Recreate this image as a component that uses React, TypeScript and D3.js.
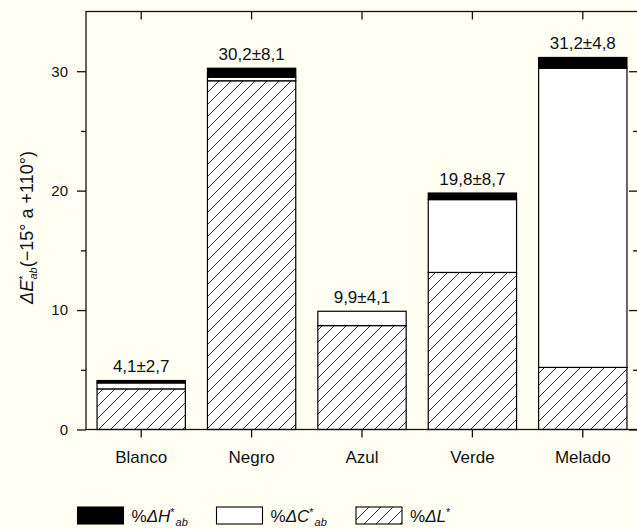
import React, { useEffect, useRef } from "react";
import * as d3 from "d3";

const categories = ["Blanco", "Negro", "Azul", "Verde", "Melado"];
const deltaL = [3.4, 29.2, 8.7, 13.15, 5.2];
const deltaC = [0.5, 0.3, 1.2, 6.1, 25.05];
const deltaH = [0.2, 0.75, 0.0, 0.55, 0.9];
const barLabels = ["4,1±2,7", "30,2±8,1", "9,9±4,1", "19,8±8,7", "31,2±4,8"];
const majorTicks = [0, 10, 20, 30];
const minorTicks = [5, 15, 25];

const W = 637;
const H = 529;
const BG = "#fffff3";
const FONT = "'Liberation Sans', Arial, Helvetica, sans-serif";

export default function App() {
  const ref = useRef<SVGSVGElement>(null);

  useEffect(() => {
    const svg = d3.select(ref.current);
    svg.selectAll("*").remove();

    const left = 86, right = 638, top = 11.5, bottom = 429.5;
    const frameRight = 639.5;

    const x = d3.scaleBand<string>().domain(categories).range([left, right]).paddingInner(0.2).paddingOuter(0.1);
    const y = d3.scaleLinear().domain([0, 35]).range([bottom, top]);

    const defs = svg.append("defs");
    const pat = defs.append("pattern")
      .attr("id", "hatch")
      .attr("patternUnits", "userSpaceOnUse")
      .attr("width", 12).attr("height", 12);
    pat.append("rect").attr("width", 12).attr("height", 12).attr("fill", "#ffffff");
    pat.append("path")
      .attr("d", "M0,12 L12,0 M-3,3 L3,-3 M9,15 L15,9")
      .attr("stroke", "#333").attr("stroke-width", 1);

    svg.append("rect").attr("width", W).attr("height", H).attr("fill", BG);

    // bars
    const stacks = categories.map((c, i) => {
      const L = deltaL[i], C = deltaC[i], Hh = deltaH[i];
      return [
        { y0: 0, y1: L, fill: "url(#hatch)" },
        { y0: L, y1: L + C, fill: "#ffffff" },
        { y0: L + C, y1: L + C + Hh, fill: "#000000" },
      ].map((s) => ({ ...s, c }));
    });

    const g = svg.append("g");
    stacks.forEach((segs) => {
      segs.forEach((s) => {
        if (s.y1 - s.y0 <= 0) return;
        g.append("rect")
          .attr("x", x(s.c)!)
          .attr("width", x.bandwidth())
          .attr("y", y(s.y1))
          .attr("height", y(s.y0) - y(s.y1))
          .attr("fill", s.fill)
          .attr("stroke", "#000")
          .attr("stroke-width", 1.2);
      });
    });

    // bar labels
    categories.forEach((c, i) => {
      const total = deltaL[i] + deltaC[i] + deltaH[i];
      svg.append("text")
        .attr("x", x(c)! + x.bandwidth() / 2)
        .attr("y", y(total) - 8.5)
        .attr("text-anchor", "middle")
        .attr("font-family", FONT)
        .attr("font-size", 17)
        .attr("fill", "#111")
        .text(barLabels[i]);
    });

    const styleAxis = (sel: any) => {
      sel.selectAll(".domain").remove();
      sel.selectAll(".tick line").attr("stroke", "#111").attr("stroke-width", 1.3);
      sel.selectAll("text").attr("font-family", FONT).attr("fill", "#111");
    };

    // left axis
    const la = svg.append("g").attr("transform", `translate(${left},0)`)
      .call(d3.axisLeft(y).tickValues(majorTicks).tickSize(9).tickPadding(9).tickFormat(d3.format("d")));
    styleAxis(la);
    la.selectAll("text").attr("font-size", 15);
    const lm = svg.append("g").attr("transform", `translate(${left},0)`)
      .call(d3.axisLeft(y).tickValues(minorTicks).tickSize(5).tickFormat(() => ""));
    styleAxis(lm);

    // right axis (inward ticks)
    const ra = svg.append("g").attr("transform", `translate(${frameRight},0)`)
      .call(d3.axisLeft(y).tickValues(majorTicks).tickSize(10.5).tickFormat(() => ""));
    styleAxis(ra);
    const rm = svg.append("g").attr("transform", `translate(${frameRight},0)`)
      .call(d3.axisLeft(y).tickValues(minorTicks).tickSize(6.5).tickFormat(() => ""));
    styleAxis(rm);

    // bottom axis
    const ba = svg.append("g").attr("transform", `translate(0,${bottom})`)
      .call(d3.axisBottom(x).tickSize(8).tickPadding(13));
    styleAxis(ba);
    ba.selectAll("text").attr("font-size", 17);

    // top axis (inward ticks)
    const ta = svg.append("g").attr("transform", `translate(0,${top})`)
      .call(d3.axisBottom(x).tickSize(8).tickFormat(() => ""));
    styleAxis(ta);

    // frame
    svg.append("rect")
      .attr("x", left).attr("y", top)
      .attr("width", frameRight - left).attr("height", bottom - top)
      .attr("fill", "none").attr("stroke", "#111").attr("stroke-width", 1.3);

    // y label
    const yl = svg.append("text")
      .attr("transform", `translate(33,${(top + bottom) / 2 + 7}) rotate(-90)`)
      .attr("text-anchor", "middle")
      .attr("font-family", FONT)
      .attr("font-size", 18)
      .attr("fill", "#111");
    yl.append("tspan").attr("font-style", "italic").text("ΔE");
    yl.append("tspan").attr("font-size", 11).attr("dy", -6).text("*");
    yl.append("tspan").attr("font-size", 11).attr("font-style", "italic").attr("dx", -4).attr("dy", 10).text("ab");
    yl.append("tspan").attr("dy", -4).text("(−15° a +110°)");

    // legend
    const legendItems = [
      { fill: "#000000", main: "ΔH", sup: "*", sub: "ab", x: 77.5 },
      { fill: "#ffffff", main: "ΔC", sup: "*", sub: "ab", x: 216.5 },
      { fill: "url(#hatch)", main: "ΔL", sup: "*", sub: "", x: 356 },
    ];
    legendItems.forEach((it) => {
      svg.append("rect")
        .attr("x", it.x).attr("y", 507)
        .attr("width", 46).attr("height", 17)
        .attr("fill", it.fill)
        .attr("stroke", "#000").attr("stroke-width", 1.1);
      const t = svg.append("text")
        .attr("x", it.x + 54).attr("y", 521.5)
        .attr("font-family", FONT)
        .attr("font-size", 17)
        .attr("fill", "#111");
      t.append("tspan").text("%");
      t.append("tspan").attr("font-style", "italic").text(it.main);
      t.append("tspan").attr("font-size", 11).attr("dy", -6).text(it.sup);
      if (it.sub) {
        t.append("tspan").attr("font-size", 11).attr("font-style", "italic").attr("dx", 1).attr("dy", 10).text(it.sub);
      }
    });
  }, []);

  return (
    <svg
      ref={ref}
      width={W}
      height={H}
      style={{ position: "absolute", left: 0, top: 0, display: "block" }}
    />
  );
}
